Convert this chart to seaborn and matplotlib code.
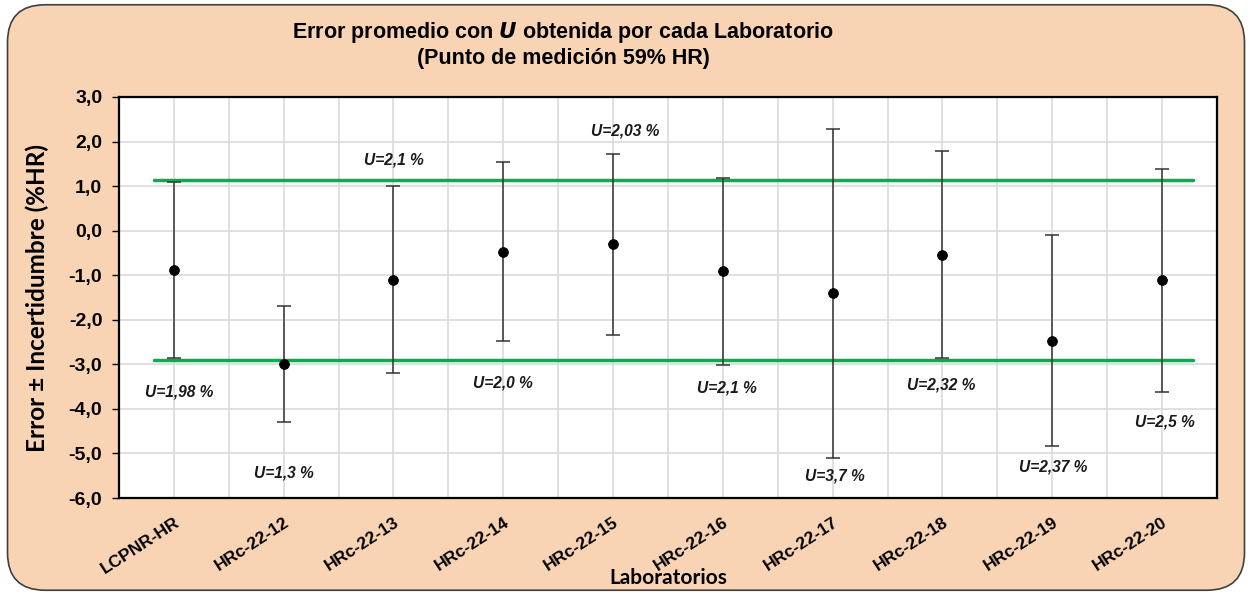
import matplotlib.pyplot as plt
import seaborn as sns
import pandas as pd
from matplotlib.patches import FancyBboxPatch
from matplotlib.ticker import FuncFormatter, MultipleLocator

labs = ["LCPNR-HR", "HRc-22-12", "HRc-22-13", "HRc-22-14", "HRc-22-15",
        "HRc-22-16", "HRc-22-17", "HRc-22-18", "HRc-22-19", "HRc-22-20"]
error = [-0.88, -2.99, -1.10, -0.47, -0.31, -0.91, -1.41, -0.54, -2.47, -1.11]
unc = [1.98, 1.3, 2.1, 2.0, 2.03, 2.1, 3.7, 2.32, 2.37, 2.5]
u_text = ["1,98", "1,3", "2,1", "2,0", "2,03", "2,1", "3,7", "2,32", "2,37", "2,5"]
limits = [1.14, -2.91]

# where each U label sits (x shift from the category, y in data units)
lab_dx = [0.05, 0.0, 0.0, 0.0, 0.11, 0.04, 0.02, -0.01, 0.01, 0.03]
lab_y = [-3.62, -5.44, 1.59, -3.42, 2.24, -3.53, -5.50, -3.46, -5.30, -4.29]

data = pd.DataFrame({"lab": labs, "error": error, "U": unc})
data["x"] = range(len(labs))

sns.set_style("white")
plt.rcParams['font.family'] = ['Liberation Sans', 'DejaVu Sans']
plt.rcParams['text.color'] = 'black'
plt.rcParams['axes.labelcolor'] = 'black'
plt.rcParams['xtick.color'] = 'black'
plt.rcParams['ytick.color'] = 'black'

bg = "#F9D4B4"
fig = plt.figure(figsize=(12.52, 5.95), dpi=100, facecolor="white")
box = FancyBboxPatch((0.006, 0.008), 0.988, 0.984, boxstyle="round,pad=0,rounding_size=0.03",
                     transform=fig.transFigure, facecolor=bg, edgecolor="#404040", lw=1.2,
                     mutation_aspect=1252 / 595, zorder=-5)
fig.patches.append(box)

ax = fig.add_axes([0.095, 0.163, 0.877, 0.674])
ax.set_facecolor("white")

ax.errorbar(data["x"], data["error"], yerr=data["U"], fmt="none", ecolor="#333333",
            elinewidth=1.1, capsize=5, capthick=1.1, zorder=3)
sns.scatterplot(data=data, x="x", y="error", color="black", s=50, edgecolor="black",
                zorder=4, ax=ax, legend=False)

for y in limits:
    ax.plot([-0.18, 9.28], [y, y], color="#00B050", lw=2.5, zorder=2)

for i in range(len(labs)):
    ax.text(data["x"][i] + lab_dx[i], lab_y[i], f"U={u_text[i]} %", ha="center", va="center",
            fontsize=11.2, fontweight="bold", style="italic", color="#1a1a1a", zorder=5)

ax.set_xlim(-0.5, 9.5)
ax.set_ylim(-6, 3)
ax.yaxis.set_major_locator(MultipleLocator(1))
ax.yaxis.set_major_formatter(FuncFormatter(lambda v, p: f"{v:.1f}".replace(".", ",")))
ax.xaxis.set_minor_locator(MultipleLocator(0.5))
ax.set_xticks(data["x"])
ax.set_xticklabels(labs, rotation=33, ha="right", rotation_mode="anchor",
                   fontsize=12.5, fontweight="bold")
ax.tick_params(axis="x", which="both", length=0, pad=12)
ax.tick_params(axis="y", left=True, length=5, width=1, labelsize=14, pad=7)
for t in ax.get_yticklabels():
    t.set_fontweight("bold")
ax.grid(True, which="both", axis="x", color="#DADADA", lw=1.2, zorder=0)
ax.grid(True, which="major", axis="y", color="#DADADA", lw=1.2, zorder=0)
ax.set_axisbelow(True)
for s in ax.spines.values():
    s.set_color("black")
    s.set_linewidth(1.6)

ax.set_xlabel("Laboratorios", fontsize=15, fontfamily="Lato", fontweight="bold")
ax.set_ylabel("Error ± Incertidumbre (%HR)", fontsize=17.5, fontfamily="Lato", fontweight="bold")
ax.xaxis.set_label_coords(0.5, -0.2)
ax.xaxis.label.set_va("center")
ax.yaxis.set_label_coords(-0.0747, 0.5)
ax.yaxis.label.set_va("center")

fig.text(0.45, 0.945, "Error promedio con $\\bfit{U}$ obtenida por cada Laboratorio",
         ha="center", va="center", fontsize=15.5, fontweight="bold")
fig.text(0.45, 0.902, "(Punto de medición 59% HR)", ha="center", va="center",
         fontsize=15.5, fontweight="bold")

fig.savefig("out.png", dpi=100, facecolor="white")
